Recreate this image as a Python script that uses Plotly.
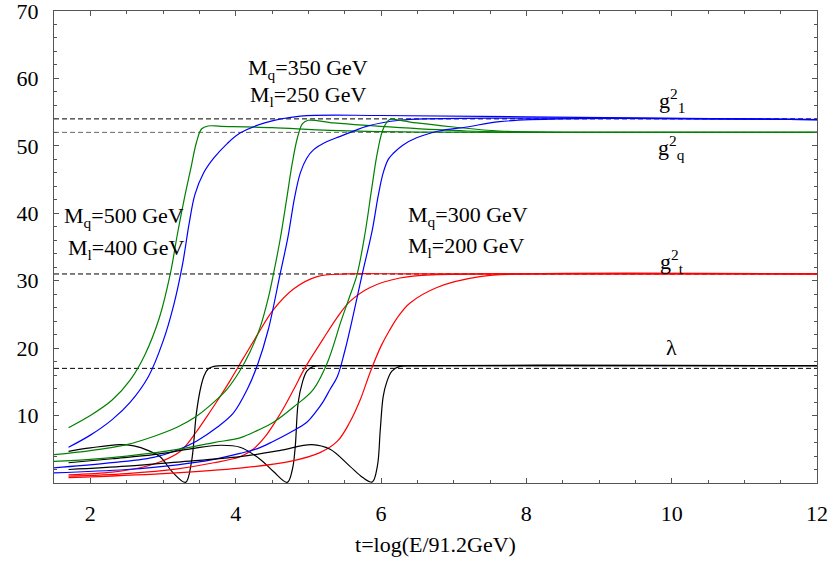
import plotly.graph_objects as go

# ---------------- data ----------------
# scenario A: Mq=500, Ml=400 ; B: Mq=350, Ml=250 ; C: Mq=300, Ml=200
t_gqA = [1.7, 2.0, 2.3, 2.55, 2.75, 2.95, 3.1, 3.2, 3.29, 3.38, 3.46, 3.53, 3.62, 3.8, 4.5, 5.3, 6.5, 8, 12]
gqA   = [8.2, 10.0, 12.3, 15.3, 19, 24.5, 31, 37, 42, 46.5, 50.5, 52.5, 52.95, 52.9, 52.7, 52.3, 52.05, 52.0, 52.0]

t_glA = [1.7, 2.0, 2.3, 2.55, 2.8, 3.0, 3.15, 3.27, 3.36, 3.44, 3.56, 3.7, 3.88, 4.06, 4.4, 4.89, 6, 8, 12]
glA   = [5.3, 7.1, 9.4, 12, 15.8, 21, 26.5, 32.5, 38.5, 42.8, 46, 48.2, 50.3, 51.9, 53.4, 54.4, 54.5, 54.3, 53.9]

t_gtA = [1.7, 2.3, 2.7, 3.0, 3.24, 3.46, 3.6, 3.73, 3.93, 4.1, 4.3, 4.52, 4.8, 5.12, 5.5, 6.5, 12]
gtA   = [1.2, 1.6, 2.3, 3.3, 4.7, 7.6, 9.8, 11.9, 15.3, 18.4, 22, 25.7, 28.8, 30.6, 31.0, 31.0, 31.0]

t_lamA = [1.7, 2.0, 2.4, 2.6, 2.8, 2.96, 3.14, 3.31, 3.39, 3.46, 3.52, 3.57, 3.62, 3.7, 4.0, 12]
lamA   = [4.7, 5.2, 5.7, 5.5, 4.8, 3.9, 1.5, 0.1, 3.0, 10.4, 14.2, 16.0, 16.9, 17.3, 17.4, 17.4]

t_gqB = [1.5, 2.0, 2.5, 2.87, 3.2, 3.46, 3.7, 3.88, 4.05, 4.2, 4.34, 4.45, 4.52, 4.61, 4.7, 4.78, 4.85, 4.92, 5.0, 5.35, 6.26, 7.18, 8.5, 12]
gqB   = [4.2, 4.8, 5.7, 6.9, 8.3, 9.9, 12, 13.9, 16.5, 19.5, 23.2, 27.5, 31, 36, 42, 47.5, 51.2, 53.3, 53.8, 53.4, 52.7, 52.2, 52.0, 52.0]

t_glB = [1.5, 2.2, 2.87, 3.2, 3.46, 3.75, 3.97, 4.16, 4.3, 4.45, 4.61, 4.72, 4.81, 4.89, 4.98, 5.07, 5.25, 5.44, 5.8, 6.26, 7.5, 12]
glB   = [2.25, 2.9, 3.8, 4.9, 6.2, 8.3, 10.4, 13.9, 17.5, 22.8, 30.9, 36.5, 42.3, 46, 48.2, 49.4, 50.6, 51.4, 52.9, 53.8, 54.1, 53.9]

t_gtB = [1.7, 2.5, 3.2, 3.7, 4.06, 4.24, 4.4, 4.54, 4.68, 4.80, 4.95, 5.2, 5.4, 5.57, 5.85, 6.26, 6.77, 7.5, 12]
gtB   = [1.0, 1.4, 2.1, 3.0, 3.9, 5.0, 6.8, 9.0, 11.5, 13.9, 17, 21.3, 24.6, 26.9, 29, 30.4, 30.9, 31, 31]

t_lamB = [1.7, 2.3, 2.87, 3.4, 3.79, 4.06, 4.34, 4.52, 4.71, 4.78, 4.82, 4.86, 4.92, 4.98, 5.07, 5.3, 12]
lamB   = [3.0, 3.6, 4.2, 5.1, 5.6, 5.3, 3.5, 1.7, 0.1, 2.0, 5.4, 11.9, 15.0, 16.6, 17.3, 17.4, 17.4]

t_gqC = [1.5, 2.0, 2.5, 3.2, 3.7, 4.06, 4.3, 4.52, 4.8, 5.07, 5.26, 5.45, 5.57, 5.67, 5.78, 5.87, 5.95, 6.03, 6.12, 6.3, 6.49, 7.0, 7.63, 9, 12]
gqC   = [3.2, 3.5, 4.0, 5.0, 6.0, 6.7, 7.8, 9.0, 11.3, 13.9, 17.8, 24, 27.7, 30.9, 37, 43.5, 49, 52.5, 53.9, 53.7, 53.4, 52.8, 52.2, 52.0, 52.0]

t_glC = [1.5, 2.5, 3.2, 3.7, 4.06, 4.3, 4.52, 4.75, 4.98, 5.1, 5.2, 5.3, 5.40, 5.5, 5.62, 5.74, 5.88, 5.96, 6.03, 6.1, 6.17, 6.3, 6.49, 6.8, 7.18, 7.63, 8.5, 12]
glC   = [1.5, 2.0, 2.7, 3.5, 4.4, 5.1, 6.2, 7.5, 9.0, 10.5, 12, 13.9, 15.8, 19.5, 25, 30.9, 37.5, 42.5, 46, 48, 48.9, 50.1, 51.2, 52.2, 52.8, 53.6, 54.0, 53.9]

t_gtC = [1.7, 3.0, 4.06, 4.75, 5.16, 5.40, 5.57, 5.72, 5.85, 6.0, 6.12, 6.25, 6.40, 6.77, 7.36, 8.0, 12]
gtC   = [0.8, 1.4, 2.2, 3.2, 4.5, 6.2, 9.0, 12.5, 16.4, 20.3, 22.7, 24.9, 26.7, 29.0, 30.6, 31, 31]

t_lamC = [1.7, 2.5, 3.2, 4.06, 4.6, 5.05, 5.30, 5.57, 5.75, 5.88, 5.95, 5.99, 6.03, 6.08, 6.15, 6.26, 6.5, 12]
lamC   = [2.0, 2.5, 3.1, 3.9, 4.8, 5.7, 5.0, 2.5, 0.8, 0.15, 2.5, 7.9, 12.8, 15.0, 16.6, 17.3, 17.4, 17.4]

# fixed-point reference values (dashed lines)
fp_names  = ["g1", "gq", "gt", "lam"]
fp_values = [54, 52, 31, 17]
fp_colors = ["black", "#666666", "black", "black"]

x_range = [1.5, 12]
y_range = [0, 70]
x_ticks = [2, 4, 6, 8, 10, 12]
y_ticks = [10, 20, 30, 40, 50, 60, 70]

GREEN, BLUE, RED, BLACK = "#008000", "#0000ff", "#ff0000", "#000000"
FONT = "Times New Roman, Liberation Serif, DejaVu Serif, serif"

fig = go.Figure()

for v, c in zip(fp_values, fp_colors):
    fig.add_trace(go.Scatter(x=x_range, y=[v, v], mode="lines",
                             line=dict(color=c, width=1, dash="5px,3px"),
                             showlegend=False, hoverinfo="skip"))

curves = [
    (t_gqA, gqA, GREEN), (t_glA, glA, BLUE), (t_gtA, gtA, RED), (t_lamA, lamA, BLACK),
    (t_gqB, gqB, GREEN), (t_glB, glB, BLUE), (t_gtB, gtB, RED), (t_lamB, lamB, BLACK),
    (t_gqC, gqC, GREEN), (t_glC, glC, BLUE), (t_gtC, gtC, RED), (t_lamC, lamC, BLACK),
]
for tx, ty, col in curves:
    fig.add_trace(go.Scatter(x=tx, y=ty, mode="lines",
                             line=dict(color=col, width=1.2, shape="spline", smoothing=1.0),
                             showlegend=False))

ann = [
    ("M<sub>q</sub>=350 GeV", 5.0, 61.4),
    ("M<sub>l</sub>=250 GeV", 5.0, 57.4),
    ("M<sub>q</sub>=500 GeV", 2.46, 39.4),
    ("M<sub>l</sub>=400 GeV", 2.49, 34.7),
    ("M<sub>q</sub>=300 GeV", 7.20, 39.6),
    ("M<sub>l</sub>=200 GeV", 7.17, 35.0),
    ("g<sup>2</sup><sub>1</sub>", 10.0, 56.8),
    ("g<sup>2</sup><sub>q</sub>", 10.0, 49.7),
    ("g<sup>2</sup><sub>t</sub>", 10.0, 32.8),
    ("λ", 10.0, 20.1),
]
for txt, ax, ay in ann:
    fig.add_annotation(x=ax, y=ay, xref="x", yref="y", text=txt, showarrow=False,
                       font=dict(family=FONT, size=22, color="black"),
                       xanchor="center", yanchor="middle")

axis_common = dict(
    showgrid=False, zeroline=False, showline=True, linecolor="#555555", linewidth=1.3,
    mirror="ticks", ticks="inside", ticklen=5, tickwidth=1, tickcolor="#555555",
    tickfont=dict(family=FONT, size=22, color="black"), ticklabeloverflow="allow",
)
fig.update_xaxes(range=x_range, tickvals=x_ticks, ticklabelstandoff=10,
                 minor=dict(dtick=0.5, ticks="inside", ticklen=3, tickcolor="#555555", showgrid=False),
                 title=dict(text="t=log(E/91.2GeV)", font=dict(family=FONT, size=22, color="black"),
                            standoff=12),
                 **axis_common)
fig.update_yaxes(range=y_range, tickvals=y_ticks, ticklabelstandoff=10,
                 minor=dict(dtick=2, ticks="inside", ticklen=3, tickcolor="#555555", showgrid=False),
                 **axis_common)

fig.update_layout(width=833, height=566, margin=dict(l=54, r=16, t=11, b=83, autoexpand=False),
                  plot_bgcolor="white", paper_bgcolor="white", showlegend=False,
                  font=dict(family=FONT))

fig.write_html("out.html")
